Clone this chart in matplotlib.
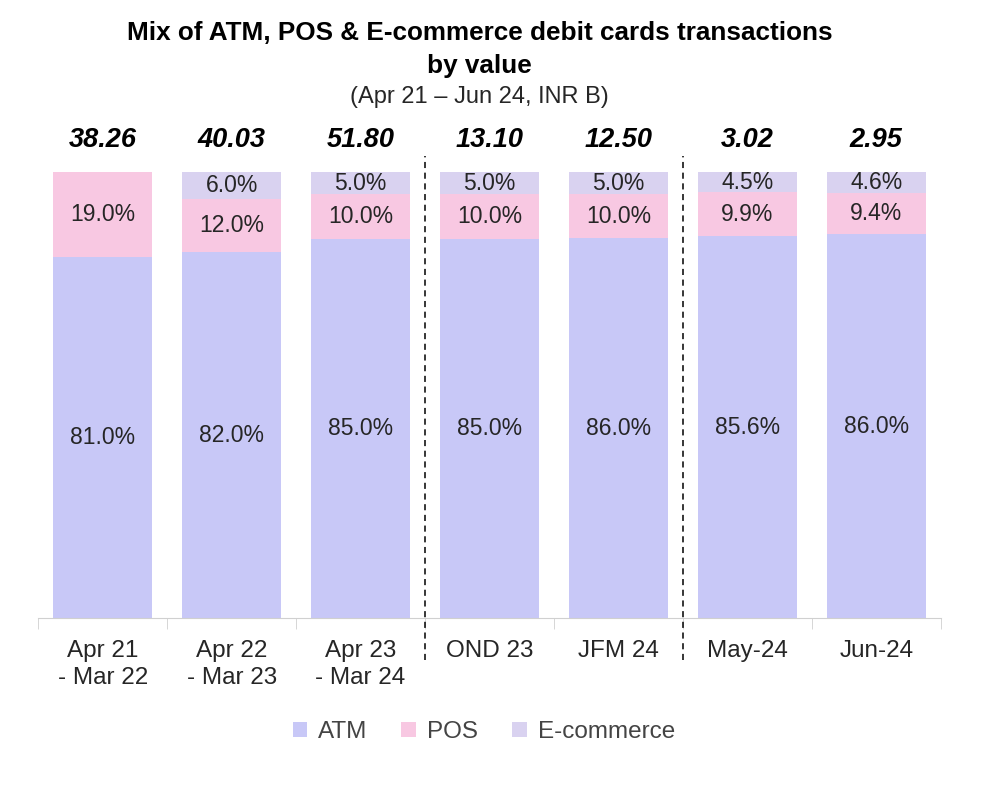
import numpy as np
import matplotlib.pyplot as plt

plt.rcParams['font.family'] = ['Liberation Sans', 'DejaVu Sans']

# data
categories = ['Apr 21\n- Mar 22', 'Apr 22\n- Mar 23', 'Apr 23\n- Mar 24',
              'OND 23', 'JFM 24', 'May-24', 'Jun-24']
totals = ['38.26', '40.03', '51.80', '13.10', '12.50', '3.02', '2.95']
atm = [81.0, 82.0, 85.0, 85.0, 86.0, 85.6, 86.0]
pos = [19.0, 12.0, 10.0, 10.0, 10.0, 9.9, 9.4]
ecom = [0.0, 6.0, 5.0, 5.0, 5.0, 4.5, 4.6]

c_atm = '#c8c8f7'
c_pos = '#f8c8e2'
c_ecom = '#d9d2f0'

fig = plt.figure(figsize=(9.83, 7.9), dpi=100)
ax = fig.add_axes([0.039, 0.2177, 0.918, 0.5646])

x = np.arange(len(categories))
w = 0.77
atm = np.array(atm)
pos = np.array(pos)
ecom = np.array(ecom)

# bars are drawn as 100% stacks (JFM 24 labels add up to 101)
tot = atm + pos + ecom
h_atm = atm / tot * 100
h_pos = pos / tot * 100
h_ecom = ecom / tot * 100

ax.bar(x, h_atm, w, color=c_atm, label='ATM')
ax.bar(x, h_pos, w, bottom=h_atm, color=c_pos, label='POS')
ax.bar(x, h_ecom, w, bottom=h_atm + h_pos, color=c_ecom, label='E-commerce')

txt = '#262626'
for i in x:
    ax.text(i, h_atm[i] / 2, f'{atm[i]:.1f}%', ha='center', va='center', fontsize=16.5, color=txt)
    ax.text(i, h_atm[i] + h_pos[i] / 2, f'{pos[i]:.1f}%', ha='center', va='center',
            fontsize=16.5, color=txt)
    if ecom[i] > 0:
        ax.text(i, h_atm[i] + h_pos[i] + h_ecom[i] / 2, f'{ecom[i]:.1f}%', ha='center', va='center',
                fontsize=16.5, color=txt)
    ax.text(i, 107.2, totals[i], ha='center', va='center', fontsize=19.5,
            fontweight='bold', fontstyle='italic', color='black')

# dashed separators
for xs in [2.5, 4.5]:
    ax.plot([xs, xs], [-9.5, 103.5], color='black', lw=1.1, ls=(0, (4, 3)), clip_on=False)

ax.set_xlim(-0.5, len(categories) - 0.5)
ax.set_ylim(0, 100)
for s in ['top', 'right', 'left']:
    ax.spines[s].set_visible(False)
ax.spines['bottom'].set_color('#d0d0d0')
ax.set_yticks([])
ax.set_xticks(x)
ax.set_xticklabels(categories, fontsize=17.5, color=txt, linespacing=1.3)
ax.tick_params(axis='x', which='major', length=0, pad=16)
ax.set_xticks(np.arange(-0.5, len(categories), 1), minor=True)
ax.tick_params(axis='x', which='minor', length=8, color='#d0d0d0')

fig.text(0.488, 0.958, 'Mix of ATM, POS & E-commerce debit cards transactions',
         ha='center', va='center', fontsize=18.8, fontweight='bold')
fig.text(0.488, 0.916, 'by value', ha='center', va='center', fontsize=18.8, fontweight='bold')
fig.text(0.488, 0.877, '(Apr 21 – Jun 24, INR B)', ha='center', va='center', fontsize=17, color=txt)

fig.legend(loc='center', bbox_to_anchor=(0.492, 0.073), ncol=3, frameon=False,
           fontsize=17.5, handlelength=0.6, handleheight=0.6, handletextpad=0.45,
           columnspacing=1.4, labelcolor='#444444')

fig.savefig('out.png', dpi=100)
